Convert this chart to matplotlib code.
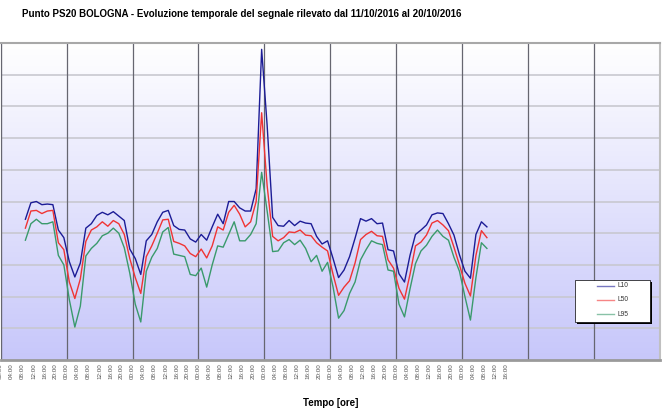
import numpy as np
import matplotlib
matplotlib.use("Agg")
import matplotlib.pyplot as plt
from matplotlib.patches import Rectangle

# ore dall'inizio del 11/10/2016 (00:00), un valore ogni 2 ore
ore = np.arange(9, 178, 2)

L10 = [52.2, 54.8, 55.0, 54.5, 54.6, 54.5, 50.5, 49.3, 45.5, 43.1,
       45.3, 50.8, 51.5, 52.8, 53.3, 52.9, 53.4, 52.7, 52.0, 47.5,
       46.0, 43.5, 48.8, 49.8, 51.8, 53.3, 53.6, 51.2, 50.6, 50.5,
       49.1, 48.6, 49.8, 48.9, 51.0, 53.0, 51.5, 55.0, 55.0, 54.0,
       53.5, 53.5, 57.0, 79.0, 67.0, 52.5, 51.2, 51.1, 52.0, 51.2,
       51.9, 51.6, 51.5, 49.5, 48.3, 48.8, 46.0, 43.0, 44.2, 46.3,
       49.2, 52.3, 51.9, 52.3, 51.5, 51.6, 47.4, 47.2, 43.6, 42.3,
       46.5, 49.8, 50.5, 51.3, 52.9, 53.2, 53.1, 51.5, 49.7, 46.6,
       44.0, 42.9, 49.8, 51.8, 51.0]

L50 = [50.8, 53.5, 53.6, 53.1, 53.5, 53.6, 48.5, 47.4, 42.3, 39.7,
       42.8, 48.7, 50.5, 51.0, 51.8, 51.1, 52.0, 51.5, 49.8, 46.0,
       43.0, 40.5, 46.3, 48.0, 50.0, 52.1, 52.2, 48.7, 48.4, 48.0,
       46.8, 46.3, 47.5, 46.1, 48.0, 51.0, 50.5, 53.3, 54.4, 53.0,
       51.0, 51.8, 55.0, 69.0, 57.5, 49.5, 48.8, 49.3, 50.2, 50.1,
       50.5, 49.7, 49.6, 48.5, 47.8, 47.2, 43.5, 40.2, 41.5, 42.5,
       45.3, 49.0, 49.8, 50.3, 49.6, 49.5, 45.8, 44.5, 41.3, 39.6,
       43.5, 48.0, 48.6, 49.7, 51.6, 52.0, 51.3, 50.4, 47.8, 45.0,
       42.1, 40.1, 46.5, 50.4, 49.3]

L95 = [48.9, 51.5, 52.2, 51.5, 51.5, 51.8, 46.5, 45.0, 39.5, 35.2,
       38.5, 46.4, 47.6, 48.4, 49.6, 50.0, 50.8, 50.0, 47.7, 43.7,
       38.8, 36.0, 44.0, 46.2, 47.6, 50.2, 50.9, 46.7, 46.5, 46.3,
       43.5, 43.3, 44.5, 41.5, 45.0, 48.0, 47.8, 49.8, 51.8, 48.8,
       48.8, 49.8, 51.5, 59.6, 53.5, 47.1, 47.2, 48.5, 49.0, 48.2,
       48.9, 47.6, 45.5, 46.5, 44.0, 45.4, 41.5, 36.6, 37.8, 40.5,
       42.3, 45.8, 47.4, 48.8, 48.4, 48.2, 44.2, 44.0, 38.8, 36.8,
       41.2, 45.2, 47.2, 48.1, 49.5, 50.5, 49.5, 48.9, 46.2, 44.0,
       40.0, 36.3, 43.0, 48.5, 47.6]

serie = ["L10", "L50", "L95"]
colori = ["#1c1c96", "#f03434", "#3a9a6c"]

# etichette asse x: ogni 4 ore fino al 18/10 ore 16:00
tick_ore = np.arange(0, 185, 4)
tick_lab = ["%02d:00" % (h % 24) for h in tick_ore]

plt.rcParams['font.family'] = ['Liberation Sans', 'DejaVu Sans']

fig = plt.figure(figsize=(6.68, 4.16), dpi=100)
ax = fig.add_axes([0.001, 0.1346, 0.987, 0.762])

ymin, ymax = 30, 80
xmin, xmax = 0, 240

# sfondo sfumato bianco -> lilla
grad = np.linspace(0, 1, 256).reshape(-1, 1)
col_top = np.array([1.0, 1.0, 1.0])
col_bot = np.array([0.78, 0.78, 0.98])
img = col_top + (col_bot - col_top) * grad[:, :, None]
ax.imshow(img, extent=[xmin, xmax, ymin, ymax], aspect='auto', origin='upper', zorder=0)

# griglia
for y in np.arange(ymin + 5, ymax, 5):
    ax.axhline(y, color='#c8c8d0', lw=1.2, zorder=1)
for d in range(0, 241, 24):
    ax.axvline(d, color='#666670', lw=0.9, zorder=1)

linee = []
for dati, nome, c in zip([L10, L50, L95], serie, colori):
    ln, = ax.plot(ore, dati, color=c, lw=1.0, zorder=3, label=nome)
    linee.append(ln)

ax.set_xlim(xmin, xmax)
ax.set_ylim(ymin, ymax)
ax.set_xticks(tick_ore)
ax.set_xticklabels(tick_lab, rotation=90, fontsize=4.5, color='#555555')
ax.tick_params(axis='x', length=0, pad=2)
ax.set_yticks([])

ax.spines['top'].set_color('#a8a8a8')
ax.spines['top'].set_linewidth(1.5)
ax.spines['right'].set_color('#c0c0c0')
ax.spines['right'].set_linewidth(1.5)
ax.spines['bottom'].set_color('#9a9a9a')
ax.spines['bottom'].set_linewidth(2)
ax.spines['left'].set_color('#666670')

ax.set_xlabel('Tempo [ore]', fontsize=7, fontweight='bold', labelpad=14)

# legenda disegnata a mano con ombra nera
lx, ly, lw_, lh = 0.871, 0.12, 0.114, 0.132
ax.add_patch(Rectangle((lx + 0.003, ly - 0.007), lw_, lh, transform=ax.transAxes,
                       facecolor='black', edgecolor='none', zorder=5))
ax.add_patch(Rectangle((lx, ly), lw_, lh, transform=ax.transAxes,
                       facecolor='white', edgecolor='black', lw=0.5, zorder=6))
for i, ln in enumerate(linee):
    yy = ly + lh - 0.017 - i * 0.045
    ax.plot([lx + 0.033, lx + 0.06], [yy, yy], transform=ax.transAxes,
            color=ln.get_color(), lw=1.0, alpha=0.6, zorder=7)
    ax.text(lx + 0.065, yy, ln.get_label(), transform=ax.transAxes,
            fontsize=4.8, va='center', ha='left', color='#333333', zorder=7)

fig.text(0.033, 0.966, 'Punto PS20 BOLOGNA - Evoluzione temporale del segnale rilevato dal 11/10/2016 al 20/10/2016',
         fontsize=7, fontweight='bold', ha='left', va='center')

fig.savefig('out.png', dpi=100)
